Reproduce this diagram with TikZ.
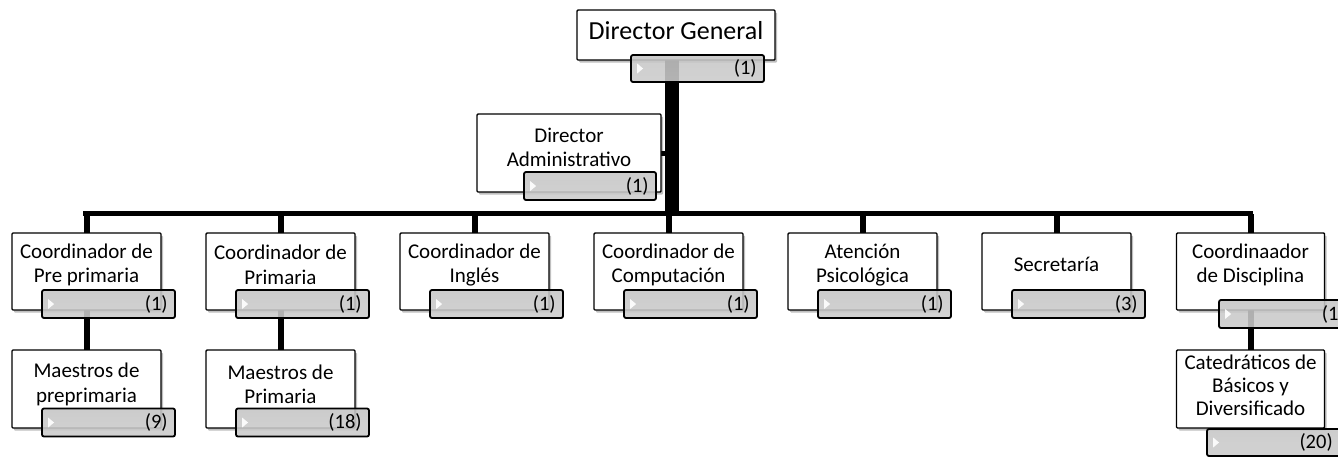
\documentclass[tikz,border=0pt]{standalone}
\usepackage{fontspec}
\setmainfont{Carlito}
\usetikzlibrary{shadows}
\begin{document}
\begin{tikzpicture}[x=1pt,y=-1pt,
  box/.style={draw=black, line width=1.4pt, fill=white, rounded corners=1pt, inner sep=0pt,
    drop shadow={shadow xshift=2pt, shadow yshift=-2.5pt, opacity=0.25, fill=black}},
  bar/.style={draw=black, line width=1.8pt, rounded corners=2pt, inner sep=0pt,
    top color=gray!45, middle color=gray!22, bottom color=gray!40, fill opacity=0.88,
    minimum width=133pt, minimum height=28pt},
  txt/.style={font=\fontsize{21}{24.5}\selectfont, align=center, inner sep=0pt},
  cnt/.style={font=\fontsize{20.5}{24}\selectfont, inner sep=0pt, anchor=east},
  bus/.style={line width=5.5pt},
  drop/.style={line width=6pt},
  trunkline/.style={line width=14pt},
  rowbox/.style={box, minimum width=149pt, minimum height=77pt},
  lowbox/.style={box, minimum width=149pt, minimum height=78pt},
  tri/.style={fill=white, opacity=0.9}
]
\useasboundingbox (0,0) rectangle (1338,456);

% coordinates for connectors
\coordinate (busL) at (83,213.5);
\coordinate (busR) at (1253,213.5);
\coordinate (trunk) at (672,213.5);

% ---- anchor points for the boxes ----
\path
  (676,35)    node[minimum width=198pt, minimum height=50pt, inner sep=0pt] (dg) {}
  (569,153)   node[minimum width=184pt, minimum height=78pt, inner sep=0pt] (da) {}
  (86.5,271.5)  coordinate (c1)
  (280.5,271.5) coordinate (c2)
  (474.5,271.5) coordinate (c3)
  (668.5,271.5) coordinate (c4)
  (862.5,271.5) coordinate (c5)
  (1056.5,271.5) coordinate (c6)
  (1250.5,271.5) coordinate (c7)
  (86.5,389)  coordinate (m1)
  (280.5,389) coordinate (m2)
  (1250.5,389) coordinate (m7);

% ---- connectors ----
\draw[trunkline] (trunk |- dg.center) -- (trunk);
\draw[bus] (busL) -- (busR);
\draw[line width=5pt] (da.east) -- (da.east -| trunk);
\foreach \c in {c1,c2,c3,c4,c5,c6,c7}{
  \draw[drop] (\c) -- (\c |- busL);
}
\draw[drop] (c1) -- (m1);
\draw[drop] (c2) -- (m2);
\draw[drop] (c7) -- (m7);

% ---- boxes ----
\node[box, minimum width=198pt, minimum height=50pt] (dgbox) at (dg) {};
\node[font=\fontsize{26}{30}\selectfont, inner sep=0pt] (dgt) at (676,31) {Director General};
\node[bar, minimum height=27pt] (dgb) at (697.5,68.5) {};
\node[cnt] (dgn) at ([xshift=-8pt]dgb.east) {(1)};

\node[box, minimum width=184pt, minimum height=78pt] (dabox) at (da) {};
\node[txt] (dat) at (569,147.5) {Director\\Administrativo};
\node[bar, minimum width=132pt] (dab) at (590,186) {};
\node[cnt] (dan) at ([xshift=-8pt]dab.east) {(1)};

\node[rowbox] (c1box) at (c1) {};
\node[txt] (c1t) at (86.5,265) {Coordinador de\\Pre primaria};
\node[bar] (c1b) at (108.5,304) {};
\node[cnt] (c1n) at ([xshift=-8pt]c1b.east) {(1)};

\node[rowbox] (c2box) at (c2) {};
\node[txt] (c2t) at (280.5,265) {Coordinador de\\Primaria};
\node[bar] (c2b) at (302.5,304) {};
\node[cnt] (c2n) at ([xshift=-8pt]c2b.east) {(1)};

\node[rowbox] (c3box) at (c3) {};
\node[txt] (c3t) at (474.5,265) {Coordinador de\\Inglés};
\node[bar] (c3b) at (496.5,304) {};
\node[cnt] (c3n) at ([xshift=-8pt]c3b.east) {(1)};

\node[rowbox] (c4box) at (c4) {};
\node[txt] (c4t) at (668.5,265) {Coordinador de\\Computación};
\node[bar] (c4b) at (690.5,304) {};
\node[cnt] (c4n) at ([xshift=-8pt]c4b.east) {(1)};

\node[rowbox] (c5box) at (c5) {};
\node[txt] (c5t) at (862.5,265) {Atención\\Psicológica};
\node[bar] (c5b) at (884.5,304) {};
\node[cnt] (c5n) at ([xshift=-8pt]c5b.east) {(1)};

\node[rowbox] (c6box) at (c6) {};
\node[txt] (c6t) at (1056.5,264) {Secretaría};
\node[bar] (c6b) at (1078.5,304) {};
\node[cnt] (c6n) at ([xshift=-8pt]c6b.east) {(3)};

\node[rowbox, minimum width=148pt] (c7box) at (c7) {};
\node[txt] (c7t) at (1250.5,265) {Coordinaador\\de Disciplina};
\node[bar] (c7b) at (1285.5,314) {};
\node[cnt] (c7n) at ([xshift=-8pt]c7b.east) {(1)};

\node[lowbox] (m1box) at (m1) {};
\node[txt] (m1t) at (86.5,384.5) {Maestros de\\preprimaria};
\node[bar] (m1b) at (108.5,422.5) {};
\node[cnt] (m1n) at ([xshift=-8pt]m1b.east) {(9)};

\node[lowbox] (m2box) at (m2) {};
\node[txt] (m2t) at (280.5,384.5) {Maestros de\\Primaria};
\node[bar] (m2b) at (302.5,422.5) {};
\node[cnt] (m2n) at ([xshift=-8pt]m2b.east) {(18)};

\node[lowbox, minimum width=148pt] (m7box) at (m7) {};
\node[txt, font=\fontsize{21}{23}\selectfont] (m7t) at (1250.5,385) {Catedráticos de\\Básicos y\\Diversificado};
\node[bar, minimum height=27pt] (m7b) at (1273.5,442.5) {};
\node[cnt] (m7n) at ([xshift=-8pt]m7b.east) {(20)};

% small white triangles on the bars
\foreach \b in {dgb,dab,c1b,c2b,c3b,c4b,c5b,c6b,c7b,m1b,m2b,m7b}{
  \fill[tri] ([shift={(7,-5)}]\b.west) -- ([shift={(13,0)}]\b.west) -- ([shift={(7,5)}]\b.west) -- cycle;
}
\end{tikzpicture}
\end{document}
